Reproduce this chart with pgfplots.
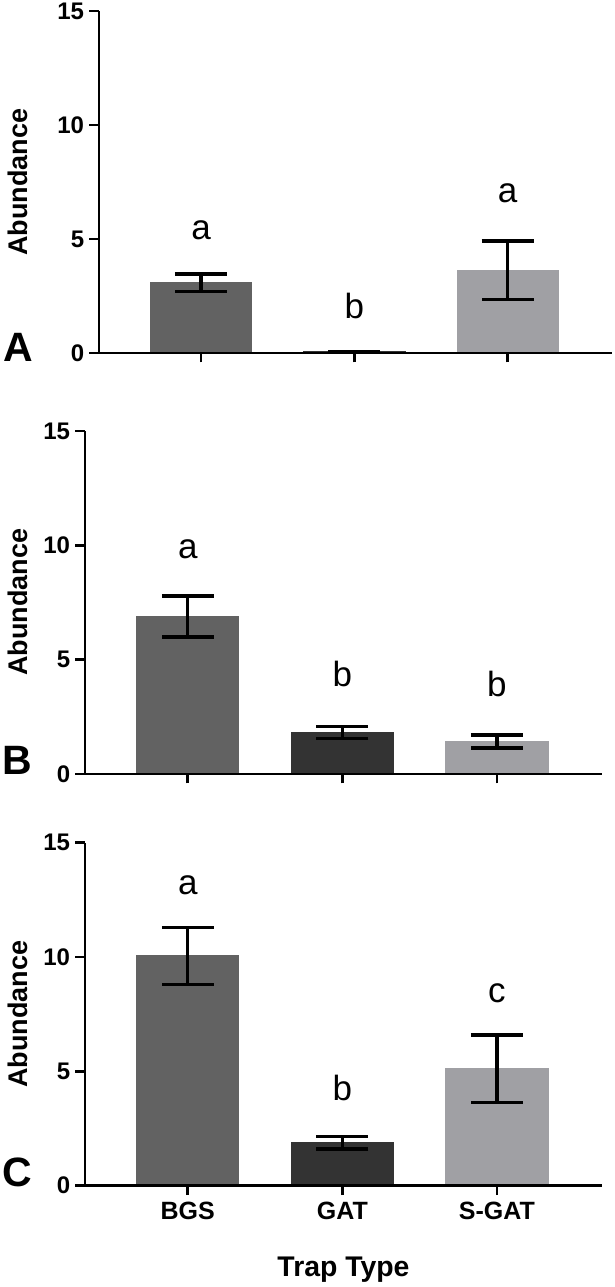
\documentclass[border=0pt]{standalone}
\usepackage{fontspec}
\setmainfont{Liberation Sans}
\usepackage{pgfplots}
\pgfplotsset{compat=1.18}

\definecolor{cBGS}{RGB}{98,98,98}
\definecolor{cGAT}{RGB}{51,51,51}
\definecolor{cSGAT}{RGB}{160,160,164}

\pgfplotsset{
  panel/.style={
    scale only axis,
    ymin=0, ymax=15, ytick={0,5,10,15},
    xmin=-0.665, xmax=2.68,
    xtick={0,1,2}, xticklabels={},
    axis x line*=bottom, axis y line*=left,
    axis line style={line width=1.4pt, black},
    tick style={line width=1.4pt, black},
    major tick length=4.75pt,
    tick align=outside,
    axis on top,
    ybar, bar width=0.66,
    clip=false,
    /pgf/number format/assume math mode=true,
    yticklabel style={font=\bfseries\fontsize{12}{13}\selectfont, inner sep=2.5pt},
    xticklabel style={font=\bfseries\fontsize{12.5}{13}\selectfont},
  },
  errb/.style={
    bar shift=0pt,
    error bars/.cd, y dir=both, y explicit,
    error mark=|,
    error bar style={line width=1.7pt, black, solid},
    error mark options={line width=1.7pt, black, mark size=13pt},
  },
}
\tikzset{sig/.style={font=\fontsize{17.5}{18}\selectfont, anchor=base}}

\begin{document}
\begin{tikzpicture}
\useasboundingbox (0,0) rectangle (307.5pt,643.5pt);

% panel A
\begin{axis}[panel, at={(49.5pt,467pt)}, anchor=south west, width=256.5pt, height=171pt]
  \addplot[fill=cBGS, draw=cBGS, errb] coordinates {(0,3.08) +- (0,0.39)};
  \addplot[fill=cGAT, draw=cGAT, errb] coordinates {(1,0.06) +- (0,0.001)};
  \addplot[fill=cSGAT, draw=cSGAT, errb] coordinates {(2,3.63) +- (0,1.28)};
  \node[sig] at (axis cs:0,4.96) {a};
  \node[sig] at (axis cs:1,1.52) {b};
  \node[sig] at (axis cs:2,6.61) {a};
\end{axis}

% panel B
\begin{axis}[panel, at={(42.5pt,256.5pt)}, anchor=south west, width=258.5pt, height=171.5pt]
  \addplot[fill=cBGS, draw=cBGS, errb] coordinates {(0,6.89) +- (0,0.90)};
  \addplot[fill=cGAT, draw=cGAT, errb] coordinates {(1,1.82) +- (0,0.27)};
  \addplot[fill=cSGAT, draw=cSGAT, errb] coordinates {(2,1.42) +- (0,0.29)};
  \node[sig] at (axis cs:0,9.43) {a};
  \node[sig] at (axis cs:1,3.82) {b};
  \node[sig] at (axis cs:2,3.41) {b};
\end{axis}

% panel C
\begin{axis}[panel, at={(42.5pt,50.65pt)}, anchor=south west, width=258.5pt, height=171.5pt,
  xticklabels={BGS,GAT,S-GAT}]
  \addplot[fill=cBGS, draw=cBGS, errb] coordinates {(0,10.05) +- (0,1.24)};
  \addplot[fill=cGAT, draw=cGAT, errb] coordinates {(1,1.88) +- (0,0.27)};
  \addplot[fill=cSGAT, draw=cSGAT, errb] coordinates {(2,5.12) +- (0,1.47)};
  \node[sig] at (axis cs:0,12.75) {a};
  \node[sig] at (axis cs:1,3.71) {b};
  \node[sig] at (axis cs:2,8.03) {c};
\end{axis}

% labels
\begin{scope}[font=\bfseries\fontsize{13.5}{14}\selectfont]
  \node[rotate=90] at (9pt,552.5pt) {Abundance};
  \node[rotate=90] at (9pt,342.5pt) {Abundance};
  \node[rotate=90] at (9pt,136.5pt) {Abundance};
  \node[anchor=base, font=\bfseries\fontsize{14.2}{15}\selectfont] at (171.75pt,5.15pt) {Trap Type};
\end{scope}
\begin{scope}[font=\bfseries\fontsize{20.5}{21}\selectfont]
  \node[anchor=base west, inner sep=0pt] at (1.5pt,462.5pt) {A};
  \node[anchor=base west, inner sep=0pt] at (1pt,256pt) {B};
  \node[anchor=base west, inner sep=0pt] at (1pt,50pt) {C};
\end{scope}
\end{tikzpicture}
\end{document}
